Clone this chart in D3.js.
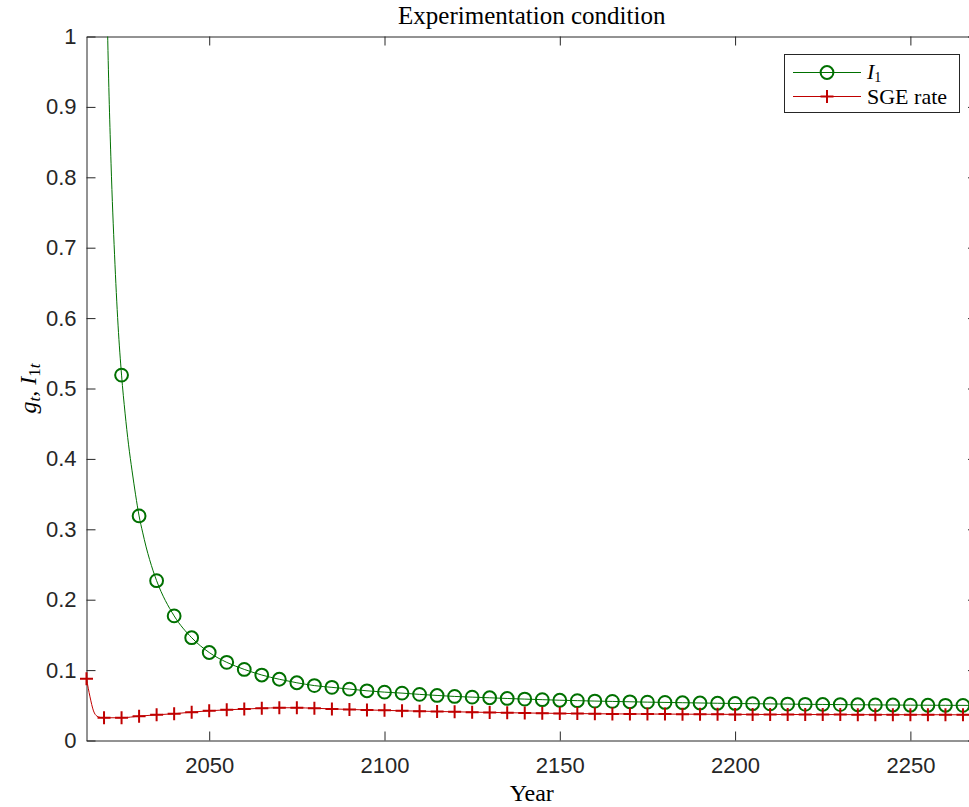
<!DOCTYPE html>
<html>
<head>
<meta charset="utf-8">
<script src="https://cdn.jsdelivr.net/npm/d3@7"></script>
<style>
  body { margin: 0; background: #fff; }
  svg { display: block; }
</style>
</head>
<body>
<svg id="chart" width="969" height="807"></svg>
<script>
// ---- data -------------------------------------------------------------
// Marker years (every 5 years) and the two series sampled at those years
const markerYears = [
  2015, 2020, 2025, 2030, 2035, 2040, 2045, 2050, 2055, 2060,
  2065, 2070, 2075, 2080, 2085, 2090, 2095, 2100, 2105, 2110,
  2115, 2120, 2125, 2130, 2135, 2140, 2145, 2150, 2155, 2160,
  2165, 2170, 2175, 2180, 2185, 2190, 2195, 2200, 2205, 2210,
  2215, 2220, 2225, 2230, 2235, 2240, 2245, 2250, 2255, 2260,
  2265, 2270
];
const i1Values = [
  null, 1.32, 0.519, 0.319, 0.227, 0.177, 0.146, 0.125, 0.111, 0.101,
  0.093, 0.087, 0.082, 0.078, 0.0755, 0.073, 0.0706, 0.0687, 0.0673, 0.0655,
  0.064, 0.0626, 0.0616, 0.0607, 0.0597, 0.0588, 0.058, 0.0572, 0.0566, 0.056,
  0.0555, 0.055, 0.0545, 0.0541, 0.0537, 0.0533, 0.0529, 0.0526, 0.0523, 0.052,
  0.0517, 0.0514, 0.0512, 0.051, 0.0508, 0.0506, 0.0504, 0.0502, 0.0501, 0.05,
  0.0499, 0.0498
];
const sgeValues = [
  0.0877, 0.0323, 0.0323, 0.0346, 0.0365, 0.038, 0.0403, 0.0422, 0.0436, 0.0446,
  0.0458, 0.0465, 0.0465, 0.0458, 0.0449, 0.0441, 0.0434, 0.0428, 0.0422, 0.0417,
  0.0412, 0.0408, 0.0403, 0.0399, 0.0395, 0.0391, 0.0388, 0.0385, 0.0382, 0.038,
  0.0378, 0.0377, 0.0376, 0.0375, 0.0374, 0.0373, 0.0372, 0.0371, 0.037, 0.037,
  0.0369, 0.0369, 0.0368, 0.0368, 0.0367, 0.0367, 0.0367, 0.0366, 0.0366, 0.0366,
  0.0365, 0.0365
];
// Extra yearly values where the curves bend sharply
const i1DetailYears = [2021, 2022, 2023, 2024, 2026, 2027, 2028, 2029, 2031, 2032, 2033, 2034];
const i1DetailValues = [1.01, 0.82, 0.69, 0.59, 0.465, 0.42, 0.383, 0.349, 0.296, 0.275, 0.257, 0.241];
const sgeDetailYears = [2016, 2017, 2018, 2019];
const sgeDetailValues = [0.062, 0.042, 0.0345, 0.0327];

// Axis ticks
const xTicks = [2050, 2100, 2150, 2200, 2250];
const yTicks = [0, 0.1, 0.2, 0.3, 0.4, 0.5, 0.6, 0.7, 0.8, 0.9, 1];
const yTickLabels = ["0", "0.1", "0.2", "0.3", "0.4", "0.5", "0.6", "0.7", "0.8", "0.9", "1"];

const seriesNames = ["I1", "SGE rate"];
const titleText = "Experimentation condition";
const xLabelText = "Year";

// ---- layout -------------------------------------------------------------
const svg = d3.select("#chart");
const L = 86.5, R = 977, T = 36.5, B = 740.5;
const axisColor = "#262626";
const green = "#007000";
const red = "#c00000";
const serif = "'Liberation Serif', 'Times New Roman', serif";
const sans = "'Liberation Sans', Arial, Helvetica, sans-serif";

const x = d3.scaleLinear().domain([2015, 2269]).range([L, R]);
const y = d3.scaleLinear().domain([0, 1]).range([B, T]);

// merge marker samples with the extra yearly samples for the line
function lineData(years, vals, dYears, dVals) {
  const pts = years.map((yr, i) => ({ yr, v: vals[i] }))
    .concat(dYears.map((yr, i) => ({ yr, v: dVals[i] })));
  return pts.sort((a, b) => a.yr - b.yr);
}
const i1Line = lineData(markerYears, i1Values, i1DetailYears, i1DetailValues);
const sgeLine = lineData(markerYears, sgeValues, sgeDetailYears, sgeDetailValues);

svg.append("defs").append("clipPath").attr("id", "plotClip")
  .append("rect").attr("x", L).attr("y", T).attr("width", R - L).attr("height", B - T);

// ---- axes ---------------------------------------------------------------
const tickLen = 9;
const fmt = d => yTickLabels[yTicks.indexOf(d)];

const gx = svg.append("g").attr("transform", `translate(0,${B})`)
  .call(d3.axisBottom(x).tickValues(xTicks).tickSize(-tickLen).tickSizeOuter(0)
    .tickPadding(16.5).tickFormat(d3.format("d")));
const gxTop = svg.append("g").attr("transform", `translate(0,${T})`)
  .call(d3.axisTop(x).tickValues(xTicks).tickSize(-tickLen).tickSizeOuter(0).tickFormat(""));
const gy = svg.append("g").attr("transform", `translate(${L},0)`)
  .call(d3.axisLeft(y).tickValues(yTicks).tickSize(-tickLen).tickSizeOuter(0)
    .tickPadding(10).tickFormat(fmt));
const gyRight = svg.append("g").attr("transform", `translate(${R},0)`)
  .call(d3.axisRight(y).tickValues(yTicks).tickSize(-tickLen).tickSizeOuter(0).tickFormat(""));

[gx, gxTop, gy, gyRight].forEach(g => {
  g.select(".domain").attr("stroke", axisColor).attr("stroke-width", 1);
  g.selectAll(".tick line").attr("stroke", axisColor).attr("stroke-width", 1);
  g.selectAll(".tick text").attr("fill", axisColor)
    .style("font-family", sans).style("font-size", "22px");
});

// ---- lines --------------------------------------------------------------
const line = d3.line()
  .defined(d => d.v != null)
  .x(d => x(d.yr)).y(d => y(d.v))
  .curve(d3.curveMonotoneX);

const plot = svg.append("g").attr("clip-path", "url(#plotClip)");
plot.append("path").datum(i1Line).attr("d", line)
  .attr("fill", "none").attr("stroke", green).attr("stroke-width", 1);
plot.append("path").datum(sgeLine).attr("d", line)
  .attr("fill", "none").attr("stroke", red).attr("stroke-width", 1);

// ---- markers (only those inside the axis limits) ------------------------
const inside = (yr, v) => v != null && yr >= 2015 && yr <= 2269 && v >= 0 && v <= 1;
const i1Marks = markerYears.map((yr, i) => ({ yr, v: i1Values[i] })).filter(d => inside(d.yr, d.v));
const sgeMarks = markerYears.map((yr, i) => ({ yr, v: sgeValues[i] })).filter(d => inside(d.yr, d.v));

svg.append("g").selectAll("circle").data(i1Marks).join("circle")
  .attr("cx", d => x(d.yr)).attr("cy", d => y(d.v)).attr("r", 6.4)
  .attr("fill", "none").attr("stroke", green).attr("stroke-width", 2);

const plusPath = (cx, cy, h) => `M${cx - h},${cy}H${cx + h}M${cx},${cy - h}V${cy + h}`;
svg.append("g").selectAll("path").data(sgeMarks).join("path")
  .attr("d", d => plusPath(x(d.yr), y(d.v), 6.5))
  .attr("fill", "none").attr("stroke", red).attr("stroke-width", 2);

// ---- titles -------------------------------------------------------------
svg.append("text").attr("x", (L + R) / 2).attr("y", 24)
  .attr("text-anchor", "middle").attr("fill", "#000")
  .style("font-family", serif).style("font-size", "25px").text(titleText);

svg.append("text").attr("x", (L + R) / 2).attr("y", 801)
  .attr("text-anchor", "middle").attr("fill", "#000")
  .style("font-family", serif).style("font-size", "24px").text(xLabelText);

// y label: g_t, I_{1t}
const yl = svg.append("text")
  .attr("transform", `translate(36,${(T + B) / 2}) rotate(-90)`)
  .attr("text-anchor", "middle").attr("fill", "#000")
  .style("font-family", serif).style("font-size", "24px");
yl.append("tspan").style("font-style", "italic").text("g");
yl.append("tspan").style("font-style", "italic").style("font-size", "17px").attr("dy", 4).text("t");
yl.append("tspan").attr("dy", -4).text(", ");
yl.append("tspan").style("font-style", "italic").text("I");
yl.append("tspan").style("font-size", "17px").attr("dy", 4).text("1");
yl.append("tspan").style("font-style", "italic").style("font-size", "17px").text("t");

// ---- legend -------------------------------------------------------------
const lg = svg.append("g");
lg.append("rect").attr("x", 784.5).attr("y", 54.5).attr("width", 175).attr("height", 58)
  .attr("fill", "#fff").attr("stroke", axisColor).attr("stroke-width", 1);

const rows = [
  { y: 72.5, color: green, kind: "circle" },
  { y: 96.5, color: red, kind: "plus" }
];
rows.forEach(r => {
  lg.append("line").attr("x1", 793).attr("x2", 861).attr("y1", r.y).attr("y2", r.y)
    .attr("stroke", r.color).attr("stroke-width", 1);
  if (r.kind === "circle") {
    lg.append("circle").attr("cx", 827).attr("cy", r.y).attr("r", 6.4)
      .attr("fill", "none").attr("stroke", r.color).attr("stroke-width", 2);
  } else {
    lg.append("path").attr("d", plusPath(827, r.y, 6.5))
      .attr("fill", "none").attr("stroke", r.color).attr("stroke-width", 2);
  }
});
const t1 = lg.append("text").attr("x", 867).attr("y", 72.5 + 6).attr("fill", "#000")
  .style("font-family", serif).style("font-size", "22px");
t1.append("tspan").style("font-style", "italic").text("I");
t1.append("tspan").style("font-size", "14px").attr("dy", 3).text("1");
lg.append("text").attr("x", 867).attr("y", 96.5 + 7).attr("fill", "#000")
  .style("font-family", serif).style("font-size", "22px").text(seriesNames[1]);
</script>
</body>
</html>
